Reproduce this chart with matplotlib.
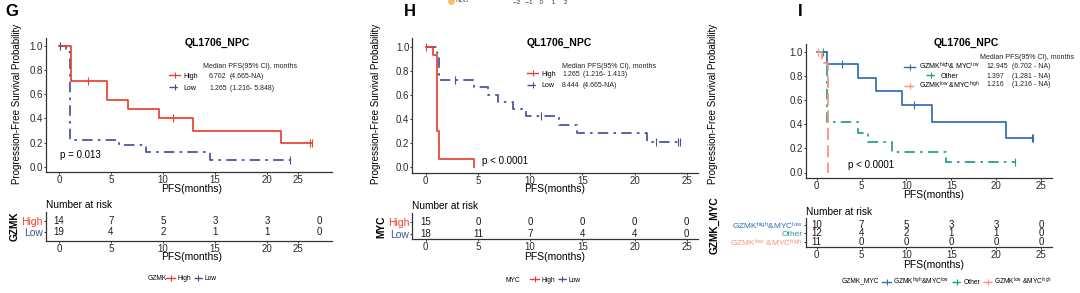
import matplotlib
matplotlib.use("Agg")
import matplotlib.pyplot as plt
import numpy as np
from matplotlib.lines import Line2D

plt.rcParams["font.family"] = ["Liberation Sans", "DejaVu Sans"]
plt.rcParams["mathtext.fontset"] = "custom"
plt.rcParams["mathtext.rm"] = "Liberation Sans"
plt.rcParams["mathtext.default"] = "regular"

# ---- data ----
RISK_TIMES = [0, 5, 10, 15, 20, 25]

# G: GZMK
G_HIGH_T = [0, 1.2, 4.65, 6.67, 9.6, 12.9, 21.3, 24.3]
G_HIGH_S = [1.0, 0.714, 0.556, 0.476, 0.40, 0.30, 0.20, 0.20]
G_HIGH_CENS = [2.8, 11.0, 24.15, 24.35]
G_LOW_T = [0, 0.7, 1.1, 5.8, 8.4, 14.5, 22.2]
G_LOW_S = [1.0, 0.95, 0.22, 0.18, 0.12, 0.06, 0.06]
G_LOW_CENS = [0.05, 22.2]
G_RISK_HIGH = [14, 7, 5, 3, 3, 0]
G_RISK_LOW = [19, 4, 2, 1, 1, 0]
G_MEDIANS = [("6.702", "(4.665-NA)"), ("1.265", "(1.216- 5.848)")]

# H: MYC
H_HIGH_T = [0, 0.67, 1.05, 1.3, 4.63]
H_HIGH_S = [1.0, 0.933, 0.30, 0.067, 0.0]
H_HIGH_CENS = [0.0]
H_LOW_T = [0, 1.1, 1.25, 4.63, 6.0, 6.9, 8.4, 9.6, 12.8, 14.5, 21.2, 24.3]
H_LOW_S = [1.0, 0.944, 0.722, 0.66, 0.60, 0.54, 0.48, 0.42, 0.35, 0.28, 0.21, 0.21]
H_LOW_CENS = [2.8, 11.0, 22.1, 24.15, 24.35]
H_RISK_HIGH = [15, 0, 0, 0, 0, 0]
H_RISK_LOW = [18, 11, 7, 4, 4, 0]
H_MEDIANS = [("1.265", "(1.216- 1.413)"), ("8.444", "(4.665-NA)")]

# I: GZMK_MYC
I_HL_T = [0, 1.2, 4.6, 6.6, 9.5, 12.85, 21.1, 24.1]
I_HL_S = [1.0, 0.90, 0.787, 0.675, 0.5625, 0.42, 0.285, 0.285]
I_HL_CENS = [2.85, 10.9, 24.0, 24.1]
I_OTHER_T = [0, 1.2, 4.6, 5.7, 8.4, 14.4, 22.1]
I_OTHER_S = [1.0, 0.42, 0.33, 0.25, 0.167, 0.09, 0.09]
I_OTHER_CENS = [0.7, 22.1]
I_LH_T = [0, 0.6, 1.25]
I_LH_S = [1.0, 0.91, 0.0]
I_LH_CENS = [0.15]
I_RISK = [[10, 7, 5, 3, 3, 0], [12, 4, 2, 1, 1, 0], [11, 0, 0, 0, 0, 0]]
I_MEDIANS = [("12.945", "(6.702 - NA)"), ("1.397", "(1.281 - NA)"), ("1.216", "(1.216 - NA)")]
I_LABELS = ["GZMK$^{high}$&MYC$^{low}$", "Other", "GZMK$^{low}$ &MYC$^{high}$"]

RED = "#E8412F"
NAVY = "#44519A"
BLUE = "#2F6DB3"
TEAL = "#1E9E8B"
SALMON = "#F7917A"
DOTDASH = (0, (6, 3, 1.5, 3))
LONGDASH = (0, (7, 3))
AXC = "#333333"
SMALL = 5.0

W, H = 1080, 293
fig = plt.figure(figsize=(W / 100, H / 100), dpi=100)


def px_axes(left, top, right, bottom):
    return fig.add_axes([left / W, 1 - bottom / H, (right - left) / W, (bottom - top) / H])


def scale(ax, box, xa, pxa, xb, pxb, ya, pya, yb, pyb):
    left, top, right, bottom = box
    sx = (pxb - pxa) / (xb - xa)
    ax.set_xlim(xa + (left - pxa) / sx, xa + (right - pxa) / sx)
    sy = (pyb - pya) / (yb - ya)
    ax.set_ylim(ya + (bottom - pya) / sy, ya + (top - pya) / sy)


def ftext(x, y, s, **kw):
    kw.setdefault("va", "center")
    return fig.text(x / W, 1 - y / H, s, **kw)


def style_axes(ax):
    for side in ("top", "right"):
        ax.spines[side].set_visible(False)
    for side in ("left", "bottom"):
        ax.spines[side].set_color(AXC)
        ax.spines[side].set_linewidth(0.9)
    ax.tick_params(length=1.6, width=0.7, color=AXC, labelsize=7, labelcolor="#2b2b2b", pad=0.6)


def km(ax, t, s, cens, color, ls):
    ax.step(t, s, where="post", color=color, lw=1.25, ls=ls, zorder=3)
    t_arr, s_arr = np.array(t), np.array(s)
    idx = np.searchsorted(t_arr, cens, side="right") - 1
    ax.plot(cens, s_arr[idx], ls="none", marker="|", ms=6, mew=0.8, color=color, zorder=4)


def risk_table(box, x0, x25, rows, row_px, labels, colors, xticks, label_fs=7.5):
    ax = px_axes(*box)
    scale(ax, box, 0, x0, 25, x25, 0, row_px[-1], len(rows) - 1, row_px[0])
    style_axes(ax)
    n = len(rows)
    for i, vals in enumerate(rows):
        for t, v in zip(RISK_TIMES, vals):
            ax.text(t, n - 1 - i, str(v), ha="center", va="center", fontsize=7, color="#1a1a1a")
    ax.set_yticks(list(range(n - 1, -1, -1)))
    ax.set_yticklabels(labels, fontsize=label_fs)
    for lab, c in zip(ax.get_yticklabels(), colors):
        lab.set_color(c)
    ax.set_xticks(xticks[0])
    ax.set_xticklabels(xticks[1])
    return ax


def main_axes(box, x0, x25, y0, y1):
    ax = px_axes(*box)
    scale(ax, box, 0, x0, 25, x25, 0, y0, 1, y1)
    style_axes(ax)
    ax.set_yticks([0, 0.2, 0.4, 0.6, 0.8, 1.0])
    ax.set_yticklabels(["0.0", "0.2", "0.4", "0.6", "0.8", "1.0"])
    return ax


def hline(color, ls, marker="|"):
    return Line2D([], [], color=color, ls=ls, lw=1.0, marker=marker, ms=5, mew=0.8)


def medians_block(handles, labels, med, header_xy, key_x, col1, col2, rows_y, loc="center left"):
    ftext(header_xy[0], header_xy[1], "Median PFS(95% CI), months", fontsize=SMALL, color="#222222")
    for h, lab, (a, b), y in zip(handles, labels, med, rows_y):
        fig.legend([h], [lab], loc=loc, bbox_to_anchor=(key_x / W, 1 - y / H), frameon=False,
                   fontsize=SMALL, handlelength=1.6, handletextpad=0.5, borderpad=0,
                   borderaxespad=0)
        ftext(col1, y, a, fontsize=SMALL, color="#222222")
        ftext(col2, y, b, fontsize=SMALL, color="#222222")


def bottom_legend(title, title_x, handles, labels, x, y):
    ftext(title_x, y, title, fontsize=4.8, ha="left")
    fig.legend(handles, labels, loc="center left", bbox_to_anchor=(x / W, 1 - y / H),
               ncol=len(handles), frameon=False, fontsize=4.8, handlelength=1.4,
               handletextpad=0.3, columnspacing=0.4, borderpad=0, borderaxespad=0)


G_XT = ([0, 5, 10, 15, 20, 23], ["0", "5", "10", "15", "20", "25"])
STD_XT = ([0, 5, 10, 15, 20, 25], ["0", "5", "10", "15", "20", "25"])
YLAB = "Progression-Free Survival Probability"

# ---------------- panel G ----------------
boxG = (46, 38, 332, 172.3)
axG = main_axes(boxG, 59, 319, 166.8, 46)
km(axG, G_LOW_T, G_LOW_S, G_LOW_CENS, NAVY, DOTDASH)
km(axG, G_HIGH_T, G_HIGH_S, G_HIGH_CENS, RED, "-")
axG.set_xticks(G_XT[0])
axG.set_xticklabels(G_XT[1])
ftext(60, 155, "p = 0.013", fontsize=7)
ftext(217, 43, "QL1706_NPC", fontsize=7.5, fontweight="bold", ha="center")
medians_block([hline(RED, "-"), hline(NAVY, DOTDASH)], ["High", "Low"], G_MEDIANS,
              (203, 66), 169, 209, 230, [76, 88])
ftext(192, 189, "PFS(months)", fontsize=7.5, ha="center")
ftext(17, 104, YLAB, fontsize=7.0, rotation=90, ha="center")
ftext(12, 12, "G", fontsize=12, fontweight="bold", ha="center")
ftext(46, 205, "Number at risk", fontsize=7.3, ha="left")
risk_table((46, 212, 332, 240.7), 59, 319, [G_RISK_HIGH, G_RISK_LOW], [220.7, 232.3],
           ["High", "Low"], [RED, NAVY], G_XT)
ftext(192, 257, "PFS(months)", fontsize=7.5, ha="center")
ftext(15, 226.5, "GZMK", fontsize=7.3, rotation=90, ha="center", fontweight="bold")
bottom_legend("GZMK", 148, [hline(RED, "-"), hline(NAVY, DOTDASH)], ["High", "Low"], 166, 279)

# ---------------- panel H ----------------
boxH = (412.3, 38, 698, 172.7)
axH = main_axes(boxH, 425.7, 686.7, 166.7, 46.7)
km(axH, H_LOW_T, H_LOW_S, H_LOW_CENS, NAVY, DOTDASH)
km(axH, H_HIGH_T, H_HIGH_S, H_HIGH_CENS, RED, "-")
axH.set_xticks(STD_XT[0])
axH.set_xticklabels(STD_XT[1])
ftext(482, 161, "p < 0.0001", fontsize=7)
ftext(559, 43, "QL1706_NPC", fontsize=7.5, fontweight="bold", ha="center")
medians_block([hline(RED, "-"), hline(NAVY, DOTDASH)], ["High", "Low"], H_MEDIANS,
              (562, 66), 527, 562, 583, [74, 86])
ftext(555, 189, "PFS(months)", fontsize=7.5, ha="center")
ftext(376, 104, YLAB, fontsize=7.0, rotation=90, ha="center")
ftext(410, 12, "H", fontsize=12, fontweight="bold", ha="center")
ftext(412, 206, "Number at risk", fontsize=7.3, ha="left")
risk_table((412.3, 213, 698, 239.3), 425.7, 686.7, [H_RISK_HIGH, H_RISK_LOW], [221.7, 234],
           ["High", "Low"], [RED, NAVY], STD_XT)
ftext(555, 257, "PFS(months)", fontsize=7.5, ha="center")
ftext(381, 227, "MYC", fontsize=7.3, rotation=90, ha="center", fontweight="bold")
bottom_legend("MYC", 505, [hline(RED, "-"), hline(NAVY, DOTDASH)], ["High", "Low"], 530, 280)
# cropped remains of the panel above
ftext(455, 1, "NDB", fontsize=4.5, color="#555555", ha="left")
fig.add_artist(Line2D([451 / W], [1 - 1 / H], marker="o", ms=4, color="#F5C36B", ls="none"))
ftext(540, 3, "\u22122   \u22121    0     1     2", fontsize=4.5, color="#333333", ha="center")

# ---------------- panel I ----------------
boxI = (806, 44, 1051.7, 178.3)
axI = main_axes(boxI, 816.7, 1041, 172.5, 52.3)
km(axI, I_OTHER_T, I_OTHER_S, I_OTHER_CENS, TEAL, DOTDASH)
km(axI, I_HL_T, I_HL_S, I_HL_CENS, BLUE, "-")
km(axI, I_LH_T, I_LH_S, I_LH_CENS, SALMON, LONGDASH)
axI.set_xticks(STD_XT[0])
axI.set_xticklabels(STD_XT[1])
ftext(848, 165, "p < 0.0001", fontsize=7)
ftext(966, 43, "QL1706_NPC", fontsize=7.5, fontweight="bold", ha="center")
medians_block([hline(BLUE, "-"), hline(TEAL, DOTDASH), hline(SALMON, LONGDASH)],
              ["GZMK$^{high}$& MYC$^{low}$", "Other", "GZMK$^{low}$ &MYC$^{high}$"],
              I_MEDIANS, (980, 57.5), 942, 986, 1012, [66.7, 76, 85], loc="center")
ftext(934, 195.5, "PFS(months)", fontsize=7.5, ha="center")
ftext(713, 104, YLAB, fontsize=7.0, rotation=90, ha="center")
ftext(800, 12, "I", fontsize=12, fontweight="bold", ha="center")
ftext(806, 212, "Number at risk", fontsize=7.3, ha="left")
risk_table((806, 218, 1051.7, 247.3), 816.7, 1041, I_RISK, [225, 233.3, 241.7],
           I_LABELS, [BLUE, TEAL, SALMON], STD_XT, label_fs=6.0)
ftext(934, 264.5, "PFS(months)", fontsize=7.5, ha="center")
ftext(715, 225, "GZMK_MYC", fontsize=7.3, rotation=90, ha="center", fontweight="bold")
bottom_legend("GZMK_MYC", 842, [hline(BLUE, "-"), hline(TEAL, DOTDASH), hline(SALMON, LONGDASH)],
              I_LABELS, 882, 281)

fig.savefig("out.png", dpi=100)
